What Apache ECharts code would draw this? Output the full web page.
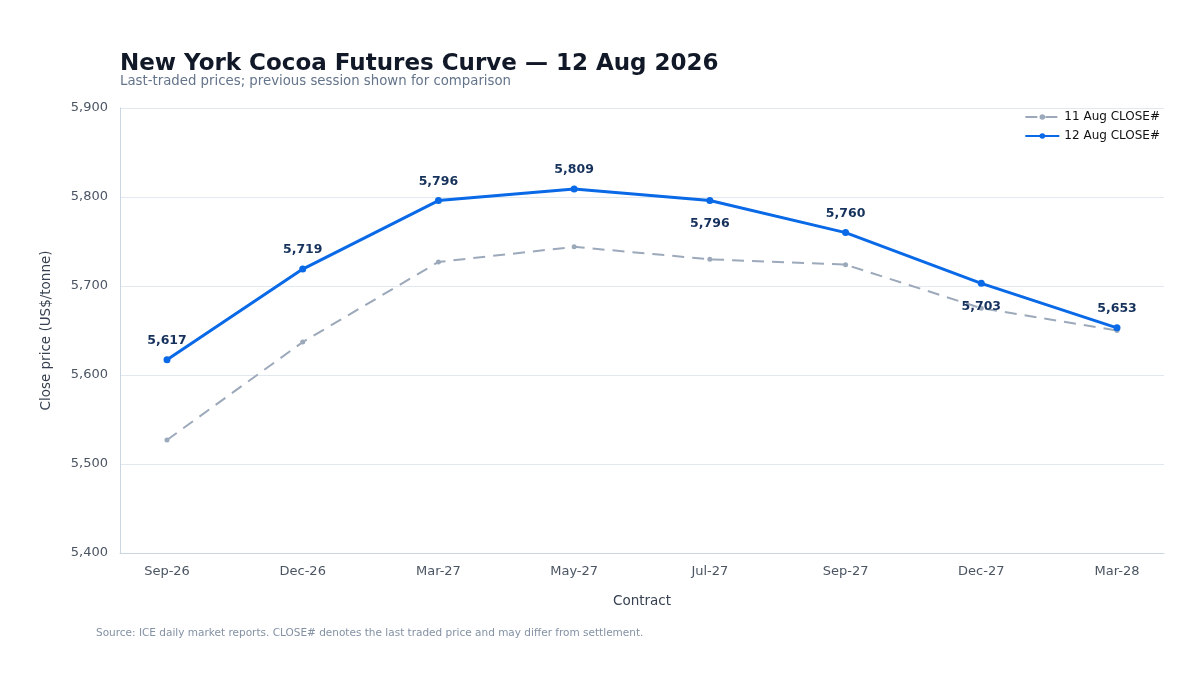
<!DOCTYPE html>
<html><head><meta charset="utf-8">
<script src="https://cdn.jsdelivr.net/npm/echarts@6/dist/echarts.min.js"></script>
<style>html,body{margin:0;padding:0;background:#fff}#c{width:1200px;height:675px}</style>
</head><body><div id="c"></div>
<script>
var categories = ['Sep-26','Dec-26','Mar-27','May-27','Jul-27','Sep-27','Dec-27','Mar-28'];
var prevClose = [5527, 5637, 5727, 5744, 5730, 5724, 5675, 5650];
var currClose = [5617, 5719, 5796, 5809, 5796, 5760, 5703, 5653];
var labelBelow = [false, false, false, false, true, false, true, false];
var yTicks = {min: 5400, max: 5900, interval: 100};

var font = 'DejaVu Sans';
var chart = echarts.init(document.getElementById('c'));
var fmt = function(v){ return Number(v).toLocaleString('en-US'); };
var idx = categories.map(function(c, i){ return i; });
var pad = 0.3463;
chart.setOption({
  backgroundColor: '#fff',
  textStyle: {fontFamily: font},
  title: [{
    text: 'New York Cocoa Futures Curve — 12 Aug 2026',
    left: 115, top: 48,
    textStyle: {fontSize: 23, fontWeight: 'bold', color: '#111827', fontFamily: font}
  }, {
    text: 'Last-traded prices; previous session shown for comparison',
    left: 115, top: 70,
    textStyle: {fontSize: 13.3, fontWeight: 'normal', color: '#64748b', fontFamily: font}
  }, {
    text: 'Source: ICE daily market reports. CLOSE# denotes the last traded price and may differ from settlement.',
    left: 91, top: 623,
    textStyle: {fontSize: 10.5, fontWeight: 'normal', color: '#8391a4', fontFamily: font}
  }],
  legend: {
    right: 35, top: 106, orient: 'vertical', itemGap: 7, itemWidth: 34, itemHeight: 7,
    textStyle: {fontSize: 12, color: '#111', fontFamily: font},
    data: ['11 Aug CLOSE#', '12 Aug CLOSE#']
  },
  grid: {left: 120, right: 36, top: 108, bottom: 122},
  xAxis: {
    type: 'value', min: -pad, max: categories.length - 1 + pad,
    name: 'Contract', nameLocation: 'middle', nameGap: 41,
    nameTextStyle: {fontSize: 13.5, color: '#374151', fontFamily: font},
    axisLine: {show: true, onZero: false, lineStyle: {color: '#cbd5e1'}},
    axisTick: {show: false},
    axisLabel: {customValues: idx, fontSize: 13, color: '#4b5563', margin: 12, fontFamily: font,
      formatter: function(v){ return categories[Math.round(v)]; }},
    splitLine: {show: false}
  },
  yAxis: {
    type: 'value', min: yTicks.min, max: yTicks.max, interval: yTicks.interval,
    name: 'Close price (US$/tonne)', nameLocation: 'middle', nameGap: 67,
    nameTextStyle: {fontSize: 13.5, color: '#374151', fontFamily: font},
    axisLine: {show: true, onZero: false, lineStyle: {color: '#cbd5e1'}},
    axisTick: {show: false},
    axisLabel: {fontSize: 13, color: '#4b5563', margin: 12, formatter: fmt, fontFamily: font},
    splitLine: {lineStyle: {color: '#e2e8f0'}}
  },
  series: [{
    name: '11 Aug CLOSE#', type: 'line',
    data: prevClose.map(function(v, i){ return [i, v]; }),
    symbol: 'circle', symbolSize: 5,
    lineStyle: {color: '#9ca9bb', width: 2, type: [12, 8]},
    itemStyle: {color: '#9ca9bb'},
    z: 2
  }, {
    name: '12 Aug CLOSE#', type: 'line',
    data: currClose.map(function(v, i){
      return {value: [i, v], label: {position: labelBelow[i] ? 'bottom' : 'top', distance: labelBelow[i] ? 13 : 9}};
    }),
    symbol: 'circle', symbolSize: 7,
    lineStyle: {color: '#0969e6', width: 3},
    itemStyle: {color: '#0969e6'},
    label: {show: true, formatter: function(p){ return fmt(p.value[1]); },
      fontSize: 12.5, fontWeight: 'bold', color: '#16325c', fontFamily: font},
    z: 3
  }]
});
</script></body></html>
